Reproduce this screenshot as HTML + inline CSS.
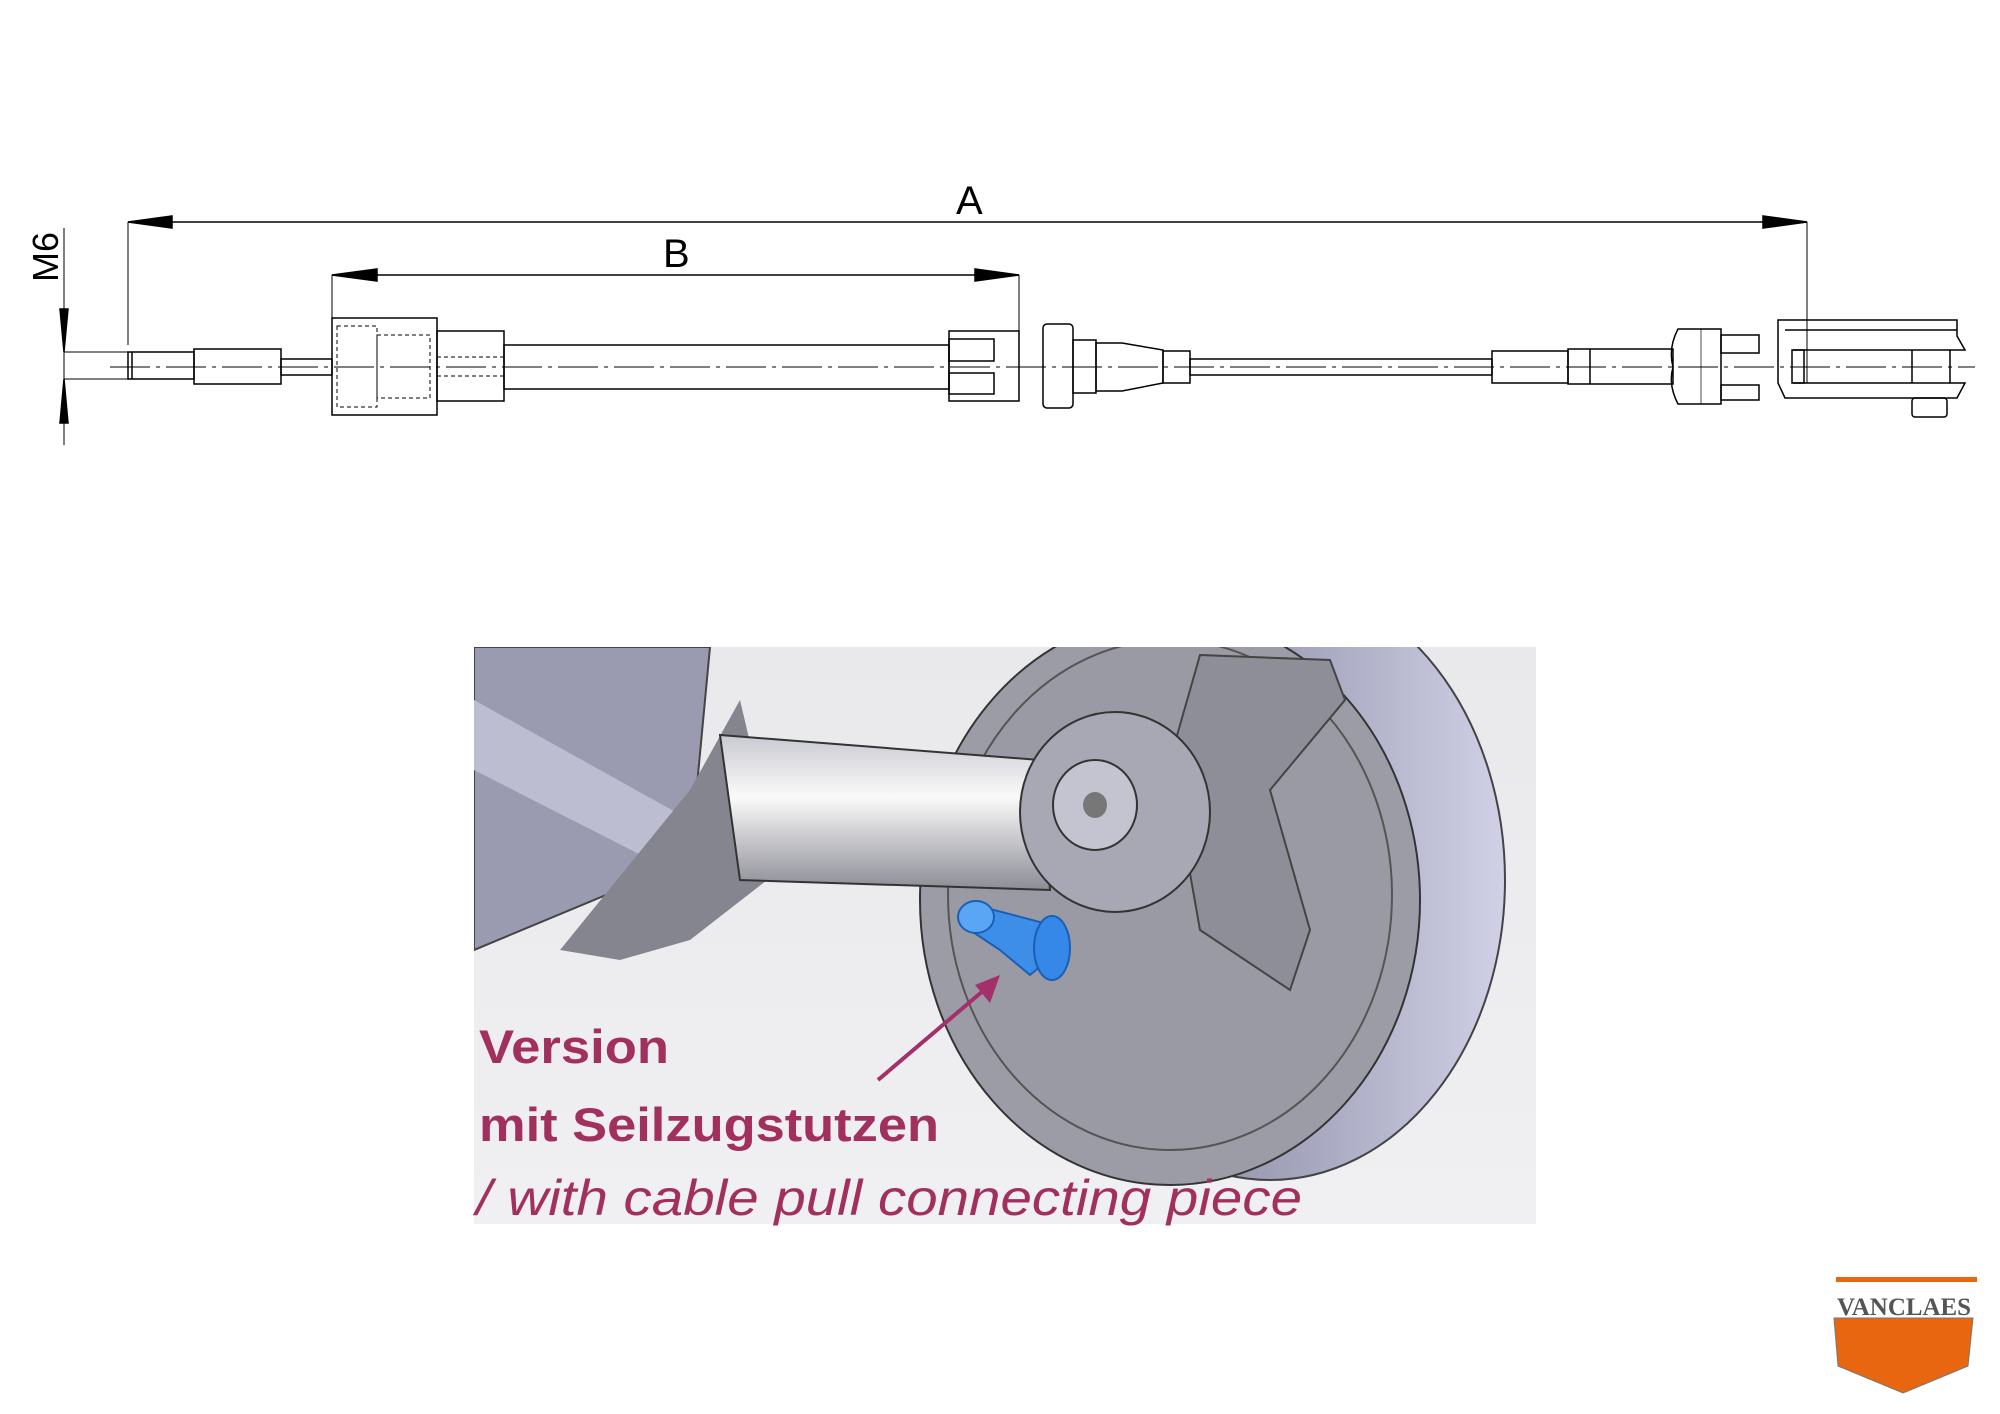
<!DOCTYPE html>
<html><head><meta charset="utf-8"><style>
html,body{margin:0;padding:0;background:#fff;}
body{width:2000px;height:1414px;position:relative;overflow:hidden;font-family:"Liberation Sans",sans-serif;}
</style></head><body>
<svg width="2000" height="1414" viewBox="0 0 2000 1414" style="position:absolute;left:0;top:0">
<defs>
<linearGradient id="bg" x1="0" y1="0" x2="0" y2="1"><stop offset="0" stop-color="#e9e9ec"/><stop offset="1" stop-color="#f0f0f2"/></linearGradient>
<linearGradient id="tire" x1="0" y1="0" x2="1" y2="0"><stop offset="0" stop-color="#76768a"/><stop offset="0.6" stop-color="#a8a8c0"/><stop offset="1" stop-color="#d0d0e6"/></linearGradient>
<linearGradient id="arm" x1="0" y1="0" x2="0" y2="1"><stop offset="0" stop-color="#c9c9d2"/><stop offset="0.4" stop-color="#fafafa"/><stop offset="1" stop-color="#8c8c96"/></linearGradient>
<clipPath id="pc"><rect x="474" y="647" width="1062" height="577"/></clipPath>
</defs>
<g stroke="#000" fill="none" stroke-width="1.5">
<line x1="110" y1="367" x2="1975" y2="367" stroke-dasharray="40,6,4,6" stroke-width="1"/>
<line x1="128" y1="222" x2="1807" y2="222"/>
<polygon points="128,222 172,216 172,228" fill="#000"/>
<polygon points="1807,222 1763,216 1763,228" fill="#000"/>
<line x1="128" y1="222" x2="128" y2="345" stroke-width="1"/>
<line x1="1807" y1="222" x2="1807" y2="383" stroke-width="1"/>
<line x1="332" y1="275" x2="1019" y2="275"/>
<polygon points="332,275 377,269 377,281" fill="#000"/>
<polygon points="1019,275 975,269 975,281" fill="#000"/>
<line x1="332" y1="275" x2="332" y2="318" stroke-width="1"/>
<line x1="1019" y1="275" x2="1019" y2="331" stroke-width="1"/>
<line x1="64" y1="228" x2="64" y2="445" stroke-width="1"/>
<polygon points="64,352 60,309 68,309" fill="#000"/>
<polygon points="64,379 60,423 68,423" fill="#000"/>
<line x1="64" y1="352" x2="128" y2="352" stroke-width="1"/>
<line x1="64" y1="379" x2="128" y2="379" stroke-width="1"/>
<rect x="128" y="352" width="66" height="27"/>
<line x1="132" y1="352" x2="132" y2="379"/>
<rect x="194" y="349" width="87" height="35"/>
<rect x="281" y="359" width="51" height="16"/>
<rect x="332" y="318" width="105" height="97"/>
<rect x="337" y="326" width="40" height="81" stroke-dasharray="4,3" stroke-width="1"/>
<rect x="377" y="335" width="53" height="63" stroke-dasharray="4,3" stroke-width="1"/>
<rect x="437" y="331" width="67" height="70"/>
<line x1="437" y1="357" x2="504" y2="357" stroke-dasharray="4,3" stroke-width="1"/>
<line x1="437" y1="376" x2="504" y2="376" stroke-dasharray="4,3" stroke-width="1"/>
<rect x="504" y="345" width="445" height="44"/>
<rect x="949" y="331" width="70" height="70"/>
<rect x="949" y="339" width="45" height="22"/>
<rect x="949" y="373" width="45" height="21"/>
<rect x="1043" y="324" width="30" height="84" rx="4"/>
<rect x="1073" y="340" width="23" height="53"/>
<polygon points="1096,343 1122,343 1163,350 1163,383 1122,391 1096,391"/>
<rect x="1163" y="351" width="27" height="32"/>
<rect x="1190" y="359" width="302" height="16"/>
<rect x="1492" y="351" width="76" height="32"/>
<rect x="1568" y="349" width="105" height="35"/>
<line x1="1590" y1="349" x2="1590" y2="384"/>
<path d="M1678,329 L1721,329 L1721,404 L1678,404 Q1668,385 1673,367 Q1668,348 1678,329 Z"/>
<line x1="1701" y1="329" x2="1701" y2="404" stroke-width="0.7"/>
<rect x="1721" y="335" width="38" height="18"/>
<rect x="1721" y="385" width="38" height="15"/>
<path d="M1778,320 L1957,320 L1957,336 L1965,350 L1950,350 L1950,383 L1965,383 L1957,398 L1785,398 L1778,383 Z"/>
<line x1="1785" y1="330" x2="1957" y2="330"/>
<rect x="1792" y="350" width="12" height="33"/>
<line x1="1793" y1="350" x2="1950" y2="350"/>
<line x1="1793" y1="383" x2="1950" y2="383"/>
<line x1="1912" y1="350" x2="1912" y2="383"/>
<rect x="1912" y="398" width="35" height="19" rx="3"/>
</g>
<g font-family="Liberation Sans,sans-serif" font-size="40" fill="#000">
<text x="956" y="214">A</text>
<text x="663" y="267">B</text>
<text transform="translate(58,257) rotate(-90)" text-anchor="middle" font-size="36">M6</text>
</g>
<rect x="474" y="647" width="1062" height="577" fill="url(#bg)"/>
<g clip-path="url(#pc)">
<ellipse cx="1270" cy="880" rx="235" ry="300" fill="url(#tire)" stroke="#444" stroke-width="2"/>
<ellipse cx="1170" cy="900" rx="250" ry="285" fill="#9c9ca6" stroke="#333" stroke-width="2"/>
<ellipse cx="1170" cy="895" rx="222" ry="255" fill="#9a9aa4" stroke="#555" stroke-width="2"/>
<polygon points="1200,655 1330,660 1345,700 1270,790 1310,930 1290,990 1200,930 1170,760" fill="#8e8e98" stroke="#444" stroke-width="2"/>
<polygon points="474,647 710,647 690,860 474,950" fill="#9a9ab0" stroke="#444" stroke-width="2"/>
<polygon points="474,700 690,820 690,880 474,770" fill="#bdbdd2"/>
<polygon points="690,790 740,700 780,870 690,940 620,960 560,950" fill="#85858f"/>
<path d="M720,735 L1040,760 L1050,890 L740,880 Z" fill="url(#arm)" stroke="#333" stroke-width="2"/>
<ellipse cx="1115" cy="812" rx="95" ry="100" fill="#a8a8b4" stroke="#333" stroke-width="2"/>
<ellipse cx="1095" cy="805" rx="42" ry="45" fill="#c4c4d0" stroke="#333" stroke-width="2"/>
<ellipse cx="1095" cy="805" rx="12" ry="13" fill="#777"/>
<path d="M975,905 L1040,922 L1048,960 L1030,975 L1000,950 L970,930 Z" fill="#3d8ee8" stroke="#1a5fb3" stroke-width="2"/>
<ellipse cx="1052" cy="948" rx="18" ry="32" fill="#3588e8" stroke="#1a5fb3" stroke-width="2"/>
<ellipse cx="976" cy="917" rx="18" ry="16" fill="#5aa6f5" stroke="#1a5fb3" stroke-width="2"/>
<line x1="878" y1="1080" x2="990" y2="985" stroke="#a3306a" stroke-width="4"/>
<polygon points="1000,975 975,985 990,1003" fill="#a3306a"/>
</g>
<g fill="#a2305f" font-family="Liberation Sans,sans-serif">
<text x="479" y="1063" font-size="47" font-weight="bold" textLength="190" lengthAdjust="spacingAndGlyphs">Version</text>
<text x="479" y="1141" font-size="47" font-weight="bold" textLength="460" lengthAdjust="spacingAndGlyphs">mit Seilzugstutzen</text>
<text x="476" y="1215" font-size="50" font-style="italic" textLength="826" lengthAdjust="spacingAndGlyphs">/ with cable pull connecting piece</text>
</g>
<rect x="1836" y="1277" width="141" height="5" fill="#e8660f"/>
<text x="1904" y="1315" text-anchor="middle" font-family="Liberation Serif,serif" font-weight="bold" font-size="25" fill="#555" textLength="134" lengthAdjust="spacingAndGlyphs">VANCLAES</text>
<polygon points="1834,1318 1973,1318 1968,1366 1903,1393 1838,1366" fill="#e8660f" stroke="#777" stroke-width="1"/>
</svg>
</body></html>
